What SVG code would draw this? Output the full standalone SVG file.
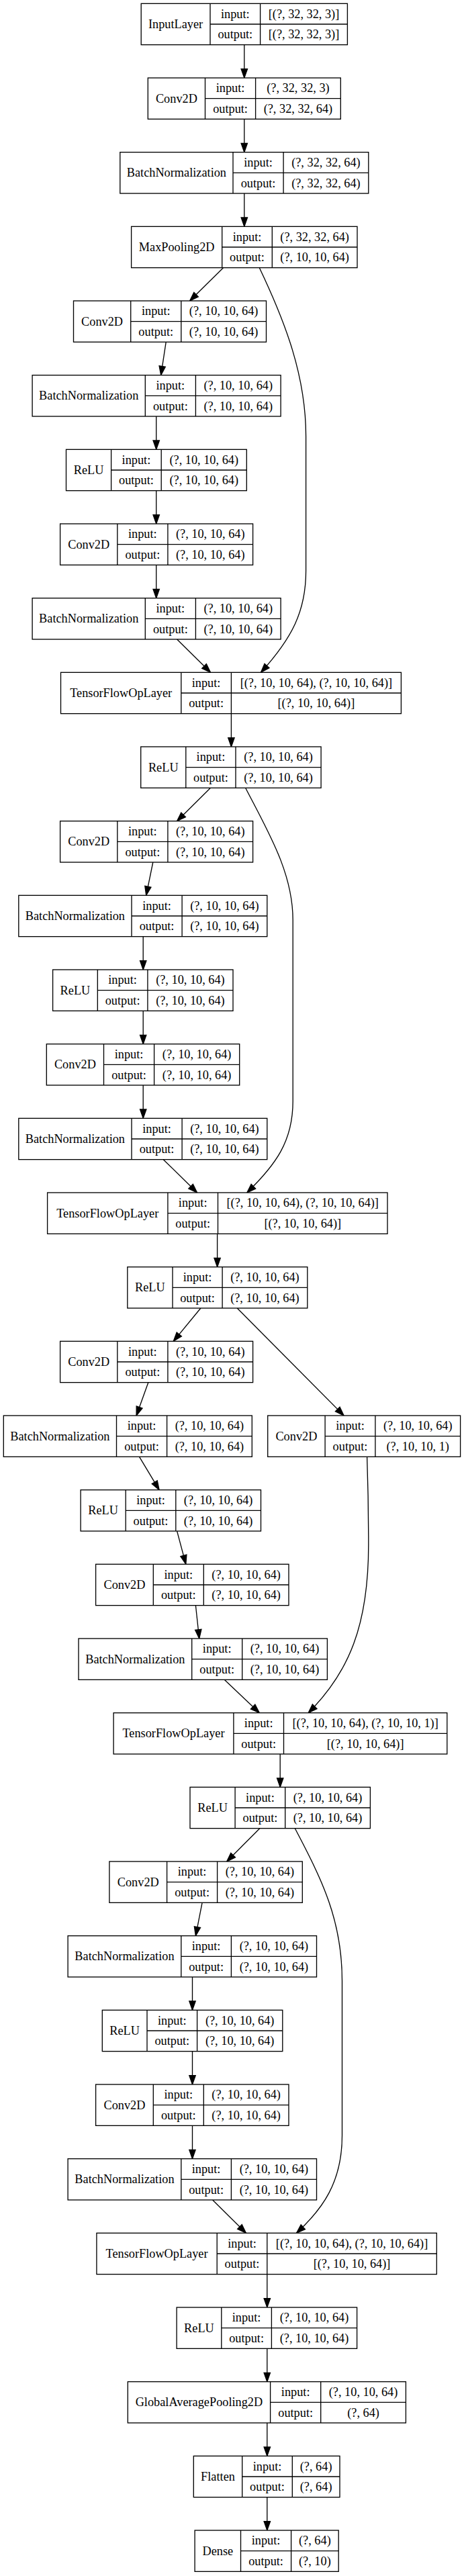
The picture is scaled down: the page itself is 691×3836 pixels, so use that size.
<svg xmlns="http://www.w3.org/2000/svg" width="691" height="3836" viewBox="0 0 691 3836">
<style>
.node rect{fill:#fff;stroke:#000;stroke-width:1.33}
.node path{fill:none;stroke:#000;stroke-width:1.33}
text{font-family:"Liberation Serif","Times New Roman",serif;font-size:18.3px;text-anchor:middle;fill:#000}
.edges path{fill:none;stroke:#000;stroke-width:1.33;marker-end:url(#arr)}
</style>
<defs>
<marker id="arr" markerUnits="userSpaceOnUse" markerWidth="16" markerHeight="12" refX="13.33" refY="4.67" orient="auto" overflow="visible">
<path d="M0,0 L13.33,4.67 L0,9.33 Z" fill="#000" stroke="#000" stroke-width="1.33"/>
</marker>
</defs>
<rect x="0" y="0" width="691" height="3836" fill="#fff"/>
<g class="edges" id="edges">
<path d="M363.8,66.7 L363.8,116"/>
<path d="M363.8,177.3 L363.8,226.7"/>
<path d="M363.8,288 L363.8,337.3"/>
<path d="M332.5,398.7 L282.6,448"/>
<path d="M386.3,398.7 C425,480 455.6,560 455.6,650 L455.6,850 C455.6,910 435,950 388.5,1001.3"/>
<path d="M247.2,509.3 L239.7,558.7"/>
<path d="M232.7,620 L232.7,669.3"/>
<path d="M232.7,730.7 L232.7,780"/>
<path d="M232.7,841.3 L232.7,890.7"/>
<path d="M263.6,952 L313.5,1001.3"/>
<path d="M344.4,1062.7 L344.4,1112"/>
<path d="M313.5,1173.3 L263.6,1222.7"/>
<path d="M365.6,1173.3 C400,1240 436.2,1300 436.2,1370 L436.2,1640 C436.2,1700 410,1735 367.8,1776"/>
<path d="M227.8,1284 L217.7,1333.3"/>
<path d="M213.2,1394.7 L213.2,1444"/>
<path d="M213.2,1505.3 L213.2,1554.7"/>
<path d="M213.2,1616 L213.2,1665.3"/>
<path d="M243.3,1726.7 L293.6,1776"/>
<path d="M323.6,1837.3 L323.6,1886.7"/>
<path d="M298.9,1948 L258.3,1997.3"/>
<path d="M353.2,1948 L512.1,2108"/>
<path d="M220.8,2058.7 L203.1,2108"/>
<path d="M207.5,2169.3 L237.1,2218.7"/>
<path d="M546.6,2169.3 C548,2210 548.8,2260 548.8,2300 C548.8,2420 520,2490 459.2,2550.7"/>
<path d="M263.6,2280 L276.8,2329.3"/>
<path d="M291.4,2390.7 L296.7,2440"/>
<path d="M334.2,2501.3 L386.3,2550.7"/>
<path d="M417.2,2612 L417.2,2661.3"/>
<path d="M386.8,2722.7 L337.7,2772"/>
<path d="M439.3,2722.7 C480,2800 509.5,2860 509.5,2950 L509.5,3180 C509.5,3250 480,3290 441.5,3325.3"/>
<path d="M301.1,2833.3 L291.4,2882.7"/>
<path d="M286.5,2944 L286.5,2993.3"/>
<path d="M286.5,3054.7 L286.5,3104"/>
<path d="M286.5,3165.3 L286.5,3214.7"/>
<path d="M316.6,3276 L366.4,3325.3"/>
<path d="M397.8,3386.7 L397.8,3436"/>
<path d="M397.8,3497.3 L397.8,3546.7"/>
<path d="M397.8,3608 L397.8,3657.3"/>
<path d="M397.8,3718.7 L397.8,3768"/>
</g>
<g id="n0" class="node"><rect x="210.2" y="5.33" width="307.2" height="61.33"/><path d="M313,5.33 V66.67 M387.6,5.33 V66.67 M313,36 H517.4"/><text x="261.6" y="41.9">InputLayer</text><text x="350.3" y="26.6">input:</text><text x="350.3" y="57.3">output:</text><text x="452.5" y="26.6">[(?, 32, 32, 3)]</text><text x="452.5" y="57.3">[(?, 32, 32, 3)]</text></g>
<g id="n1" class="node"><rect x="220.3" y="116" width="287" height="61.33"/><path d="M305.5,116 V177.33 M380.6,116 V177.33 M305.5,146.67 H507.3"/><text x="262.9" y="152.6">Conv2D</text><text x="343.05" y="137.3">input:</text><text x="343.05" y="168">output:</text><text x="443.95" y="137.3">(?, 32, 32, 3)</text><text x="443.95" y="168">(?, 32, 32, 64)</text></g>
<g id="n2" class="node"><rect x="178.8" y="226.67" width="370" height="61.33"/><path d="M347,226.67 V288 M422.1,226.67 V288 M347,257.33 H548.8"/><text x="262.9" y="263.3">BatchNormalization</text><text x="384.55" y="248">input:</text><text x="384.55" y="278.7">output:</text><text x="485.45" y="248">(?, 32, 32, 64)</text><text x="485.45" y="278.7">(?, 32, 32, 64)</text></g>
<g id="n3" class="node"><rect x="195.6" y="337.33" width="336.4" height="61.33"/><path d="M330.7,337.33 V398.67 M405.3,337.33 V398.67 M330.7,368 H532"/><text x="263.15" y="373.9">MaxPooling2D</text><text x="368" y="358.6">input:</text><text x="368" y="389.3">output:</text><text x="468.65" y="358.6">(?, 32, 32, 64)</text><text x="468.65" y="389.3">(?, 10, 10, 64)</text></g>
<g id="n4" class="node"><rect x="109.5" y="448" width="287" height="61.33"/><path d="M194.7,448 V509.33 M269.8,448 V509.33 M194.7,478.67 H396.5"/><text x="152.1" y="484.6">Conv2D</text><text x="232.25" y="469.3">input:</text><text x="232.25" y="500">output:</text><text x="333.15" y="469.3">(?, 10, 10, 64)</text><text x="333.15" y="500">(?, 10, 10, 64)</text></g>
<g id="n5" class="node"><rect x="48.1" y="558.67" width="370" height="61.33"/><path d="M216.3,558.67 V620 M291.4,558.67 V620 M216.3,589.33 H418.1"/><text x="132.2" y="595.3">BatchNormalization</text><text x="253.85" y="580">input:</text><text x="253.85" y="610.7">output:</text><text x="354.75" y="580">(?, 10, 10, 64)</text><text x="354.75" y="610.7">(?, 10, 10, 64)</text></g>
<g id="n6" class="node"><rect x="98.5" y="669.33" width="268.8" height="61.33"/><path d="M165.6,669.33 V730.67 M240.2,669.33 V730.67 M165.6,700 H367.3"/><text x="132.05" y="705.9">ReLU</text><text x="202.9" y="690.6">input:</text><text x="202.9" y="721.3">output:</text><text x="303.75" y="690.6">(?, 10, 10, 64)</text><text x="303.75" y="721.3">(?, 10, 10, 64)</text></g>
<g id="n7" class="node"><rect x="89.6" y="780" width="287" height="61.33"/><path d="M174.8,780 V841.33 M249.9,780 V841.33 M174.8,810.67 H376.6"/><text x="132.2" y="816.6">Conv2D</text><text x="212.35" y="801.3">input:</text><text x="212.35" y="832">output:</text><text x="313.25" y="801.3">(?, 10, 10, 64)</text><text x="313.25" y="832">(?, 10, 10, 64)</text></g>
<g id="n8" class="node"><rect x="48.1" y="890.67" width="370" height="61.33"/><path d="M216.3,890.67 V952 M291.4,890.67 V952 M216.3,921.33 H418.1"/><text x="132.2" y="927.3">BatchNormalization</text><text x="253.85" y="912">input:</text><text x="253.85" y="942.7">output:</text><text x="354.75" y="912">(?, 10, 10, 64)</text><text x="354.75" y="942.7">(?, 10, 10, 64)</text></g>
<g id="n9" class="node"><rect x="90.5" y="1001.33" width="506.9" height="61.33"/><path d="M269.8,1001.33 V1062.67 M344.4,1001.33 V1062.67 M269.8,1032 H597.4"/><text x="180.15" y="1037.9">TensorFlowOpLayer</text><text x="307.1" y="1022.6">input:</text><text x="307.1" y="1053.3">output:</text><text x="470.9" y="1022.6">[(?, 10, 10, 64), (?, 10, 10, 64)]</text><text x="470.9" y="1053.3">[(?, 10, 10, 64)]</text></g>
<g id="n10" class="node"><rect x="209.7" y="1112" width="268.4" height="61.33"/><path d="M276.8,1112 V1173.33 M351,1112 V1173.33 M276.8,1142.67 H478.1"/><text x="243.25" y="1148.6">ReLU</text><text x="313.9" y="1133.3">input:</text><text x="313.9" y="1164">output:</text><text x="414.55" y="1133.3">(?, 10, 10, 64)</text><text x="414.55" y="1164">(?, 10, 10, 64)</text></g>
<g id="n11" class="node"><rect x="89.6" y="1222.67" width="287" height="61.33"/><path d="M174.8,1222.67 V1284 M249.9,1222.67 V1284 M174.8,1253.33 H376.6"/><text x="132.2" y="1259.3">Conv2D</text><text x="212.35" y="1244">input:</text><text x="212.35" y="1274.7">output:</text><text x="313.25" y="1244">(?, 10, 10, 64)</text><text x="313.25" y="1274.7">(?, 10, 10, 64)</text></g>
<g id="n12" class="node"><rect x="27.8" y="1333.33" width="370" height="61.33"/><path d="M196,1333.33 V1394.67 M271.1,1333.33 V1394.67 M196,1364 H397.8"/><text x="111.9" y="1369.9">BatchNormalization</text><text x="233.55" y="1354.6">input:</text><text x="233.55" y="1385.3">output:</text><text x="334.45" y="1354.6">(?, 10, 10, 64)</text><text x="334.45" y="1385.3">(?, 10, 10, 64)</text></g>
<g id="n13" class="node"><rect x="78.6" y="1444" width="268.4" height="61.33"/><path d="M145.3,1444 V1505.33 M219.9,1444 V1505.33 M145.3,1474.67 H347"/><text x="111.95" y="1480.6">ReLU</text><text x="182.6" y="1465.3">input:</text><text x="182.6" y="1496">output:</text><text x="283.45" y="1465.3">(?, 10, 10, 64)</text><text x="283.45" y="1496">(?, 10, 10, 64)</text></g>
<g id="n14" class="node"><rect x="69.3" y="1554.67" width="287.4" height="61.33"/><path d="M154.5,1554.67 V1616 M229.6,1554.67 V1616 M154.5,1585.33 H356.7"/><text x="111.9" y="1591.3">Conv2D</text><text x="192.05" y="1576">input:</text><text x="192.05" y="1606.7">output:</text><text x="293.15" y="1576">(?, 10, 10, 64)</text><text x="293.15" y="1606.7">(?, 10, 10, 64)</text></g>
<g id="n15" class="node"><rect x="27.8" y="1665.33" width="370" height="61.33"/><path d="M196,1665.33 V1726.67 M271.1,1665.33 V1726.67 M196,1696 H397.8"/><text x="111.9" y="1701.9">BatchNormalization</text><text x="233.55" y="1686.6">input:</text><text x="233.55" y="1717.3">output:</text><text x="334.45" y="1686.6">(?, 10, 10, 64)</text><text x="334.45" y="1717.3">(?, 10, 10, 64)</text></g>
<g id="n16" class="node"><rect x="70.6" y="1776" width="506.4" height="61.33"/><path d="M249.9,1776 V1837.33 M324.5,1776 V1837.33 M249.9,1806.67 H577"/><text x="160.25" y="1812.6">TensorFlowOpLayer</text><text x="287.2" y="1797.3">input:</text><text x="287.2" y="1828">output:</text><text x="450.75" y="1797.3">[(?, 10, 10, 64), (?, 10, 10, 64)]</text><text x="450.75" y="1828">[(?, 10, 10, 64)]</text></g>
<g id="n17" class="node"><rect x="189.8" y="1886.67" width="268" height="61.33"/><path d="M257,1886.67 V1948 M331.1,1886.67 V1948 M257,1917.33 H457.8"/><text x="223.4" y="1923.3">ReLU</text><text x="294.05" y="1908">input:</text><text x="294.05" y="1938.7">output:</text><text x="394.45" y="1908">(?, 10, 10, 64)</text><text x="394.45" y="1938.7">(?, 10, 10, 64)</text></g>
<g id="n18" class="node"><rect x="89.6" y="1997.33" width="287" height="61.33"/><path d="M174.8,1997.33 V2058.67 M249.9,1997.33 V2058.67 M174.8,2028 H376.6"/><text x="132.2" y="2033.9">Conv2D</text><text x="212.35" y="2018.6">input:</text><text x="212.35" y="2049.3">output:</text><text x="313.25" y="2018.6">(?, 10, 10, 64)</text><text x="313.25" y="2049.3">(?, 10, 10, 64)</text></g>
<g id="n19" class="node"><rect x="5.3" y="2108" width="370" height="61.33"/><path d="M173.5,2108 V2169.33 M248.6,2108 V2169.33 M173.5,2138.67 H375.3"/><text x="89.4" y="2144.6">BatchNormalization</text><text x="211.05" y="2129.3">input:</text><text x="211.05" y="2160">output:</text><text x="311.95" y="2129.3">(?, 10, 10, 64)</text><text x="311.95" y="2160">(?, 10, 10, 64)</text></g>
<g id="n19b" class="node"><rect x="398.7" y="2108" width="286.9" height="61.33"/><path d="M484.1,2108 V2169.33 M558.9,2108 V2169.33 M484.1,2138.67 H685.6"/><text x="441.4" y="2144.6">Conv2D</text><text x="521.5" y="2129.3">input:</text><text x="521.5" y="2160">output:</text><text x="622.25" y="2129.3">(?, 10, 10, 64)</text><text x="622.25" y="2160">(?, 10, 10, 1)</text></g>
<g id="n20" class="node"><rect x="120.1" y="2218.67" width="268.4" height="61.33"/><path d="M187.2,2218.67 V2280 M261.8,2218.67 V2280 M187.2,2249.33 H388.5"/><text x="153.65" y="2255.3">ReLU</text><text x="224.5" y="2240">input:</text><text x="224.5" y="2270.7">output:</text><text x="325.15" y="2240">(?, 10, 10, 64)</text><text x="325.15" y="2270.7">(?, 10, 10, 64)</text></g>
<g id="n21" class="node"><rect x="142.6" y="2329.33" width="287.4" height="61.33"/><path d="M228.3,2329.33 V2390.67 M303.3,2329.33 V2390.67 M228.3,2360 H430"/><text x="185.45" y="2365.9">Conv2D</text><text x="265.8" y="2350.6">input:</text><text x="265.8" y="2381.3">output:</text><text x="366.65" y="2350.6">(?, 10, 10, 64)</text><text x="366.65" y="2381.3">(?, 10, 10, 64)</text></g>
<g id="n22" class="node"><rect x="117" y="2440" width="370.4" height="61.33"/><path d="M285.7,2440 V2501.33 M360.7,2440 V2501.33 M285.7,2470.67 H487.4"/><text x="201.35" y="2476.6">BatchNormalization</text><text x="323.2" y="2461.3">input:</text><text x="323.2" y="2492">output:</text><text x="424.05" y="2461.3">(?, 10, 10, 64)</text><text x="424.05" y="2492">(?, 10, 10, 64)</text></g>
<g id="n23" class="node"><rect x="169.1" y="2550.67" width="496.7" height="61.33"/><path d="M347.9,2550.67 V2612 M422.5,2550.67 V2612 M347.9,2581.33 H665.8"/><text x="258.5" y="2587.3">TensorFlowOpLayer</text><text x="385.2" y="2572">input:</text><text x="385.2" y="2602.7">output:</text><text x="544.15" y="2572">[(?, 10, 10, 64), (?, 10, 10, 1)]</text><text x="544.15" y="2602.7">[(?, 10, 10, 64)]</text></g>
<g id="n24" class="node"><rect x="283" y="2661.33" width="268.4" height="61.33"/><path d="M350.1,2661.33 V2722.67 M424.7,2661.33 V2722.67 M350.1,2692 H551.4"/><text x="316.55" y="2697.9">ReLU</text><text x="387.4" y="2682.6">input:</text><text x="387.4" y="2713.3">output:</text><text x="488.05" y="2682.6">(?, 10, 10, 64)</text><text x="488.05" y="2713.3">(?, 10, 10, 64)</text></g>
<g id="n25" class="node"><rect x="162.9" y="2772" width="287.4" height="61.33"/><path d="M248.6,2772 V2833.33 M323.6,2772 V2833.33 M248.6,2802.67 H450.3"/><text x="205.75" y="2808.6">Conv2D</text><text x="286.1" y="2793.3">input:</text><text x="286.1" y="2824">output:</text><text x="386.95" y="2793.3">(?, 10, 10, 64)</text><text x="386.95" y="2824">(?, 10, 10, 64)</text></g>
<g id="n26" class="node"><rect x="101.1" y="2882.67" width="370.4" height="61.33"/><path d="M269.8,2882.67 V2944 M344.4,2882.67 V2944 M269.8,2913.33 H471.5"/><text x="185.45" y="2919.3">BatchNormalization</text><text x="307.1" y="2904">input:</text><text x="307.1" y="2934.7">output:</text><text x="407.95" y="2904">(?, 10, 10, 64)</text><text x="407.95" y="2934.7">(?, 10, 10, 64)</text></g>
<g id="n27" class="node"><rect x="152.3" y="2993.33" width="268.5" height="61.33"/><path d="M219,2993.33 V3054.67 M293.6,2993.33 V3054.67 M219,3024 H420.8"/><text x="185.65" y="3029.9">ReLU</text><text x="256.3" y="3014.6">input:</text><text x="256.3" y="3045.3">output:</text><text x="357.2" y="3014.6">(?, 10, 10, 64)</text><text x="357.2" y="3045.3">(?, 10, 10, 64)</text></g>
<g id="n28" class="node"><rect x="142.6" y="3104" width="287.4" height="61.33"/><path d="M228.3,3104 V3165.33 M303.3,3104 V3165.33 M228.3,3134.67 H430"/><text x="185.45" y="3140.6">Conv2D</text><text x="265.8" y="3125.3">input:</text><text x="265.8" y="3156">output:</text><text x="366.65" y="3125.3">(?, 10, 10, 64)</text><text x="366.65" y="3156">(?, 10, 10, 64)</text></g>
<g id="n29" class="node"><rect x="101.1" y="3214.67" width="370.4" height="61.33"/><path d="M269.8,3214.67 V3276 M344.4,3214.67 V3276 M269.8,3245.33 H471.5"/><text x="185.45" y="3251.3">BatchNormalization</text><text x="307.1" y="3236">input:</text><text x="307.1" y="3266.7">output:</text><text x="407.95" y="3236">(?, 10, 10, 64)</text><text x="407.95" y="3266.7">(?, 10, 10, 64)</text></g>
<g id="n30" class="node"><rect x="143.9" y="3325.33" width="506.4" height="61.33"/><path d="M323.2,3325.33 V3386.67 M397.8,3325.33 V3386.67 M323.2,3356 H650.3"/><text x="233.55" y="3361.9">TensorFlowOpLayer</text><text x="360.5" y="3346.6">input:</text><text x="360.5" y="3377.3">output:</text><text x="524.05" y="3346.6">[(?, 10, 10, 64), (?, 10, 10, 64)]</text><text x="524.05" y="3377.3">[(?, 10, 10, 64)]</text></g>
<g id="n31" class="node"><rect x="263.1" y="3436" width="268.5" height="61.33"/><path d="M329.8,3436 V3497.33 M404.4,3436 V3497.33 M329.8,3466.67 H531.6"/><text x="296.45" y="3472.6">ReLU</text><text x="367.1" y="3457.3">input:</text><text x="367.1" y="3488">output:</text><text x="468" y="3457.3">(?, 10, 10, 64)</text><text x="468" y="3488">(?, 10, 10, 64)</text></g>
<g id="n32" class="node"><rect x="190.3" y="3546.67" width="414.1" height="61.33"/><path d="M402.6,3546.67 V3608 M477.7,3546.67 V3608 M402.6,3577.33 H604.4"/><text x="296.45" y="3583.3">GlobalAveragePooling2D</text><text x="440.15" y="3568">input:</text><text x="440.15" y="3598.7">output:</text><text x="541.05" y="3568">(?, 10, 10, 64)</text><text x="541.05" y="3598.7">(?, 64)</text></g>
<g id="n33" class="node"><rect x="288.3" y="3657.33" width="217.7" height="61.33"/><path d="M360.7,3657.33 V3718.67 M435.3,3657.33 V3718.67 M360.7,3688 H506"/><text x="324.5" y="3693.9">Flatten</text><text x="398" y="3678.6">input:</text><text x="398" y="3709.3">output:</text><text x="470.65" y="3678.6">(?, 64)</text><text x="470.65" y="3709.3">(?, 64)</text></g>
<g id="n34" class="node"><rect x="290.1" y="3768" width="214.1" height="61.33"/><path d="M358.5,3768 V3829.33 M433.6,3768 V3829.33 M358.5,3798.67 H504.2"/><text x="324.3" y="3804.6">Dense</text><text x="396.05" y="3789.3">input:</text><text x="396.05" y="3820">output:</text><text x="468.9" y="3789.3">(?, 64)</text><text x="468.9" y="3820">(?, 10)</text></g>
</svg>
